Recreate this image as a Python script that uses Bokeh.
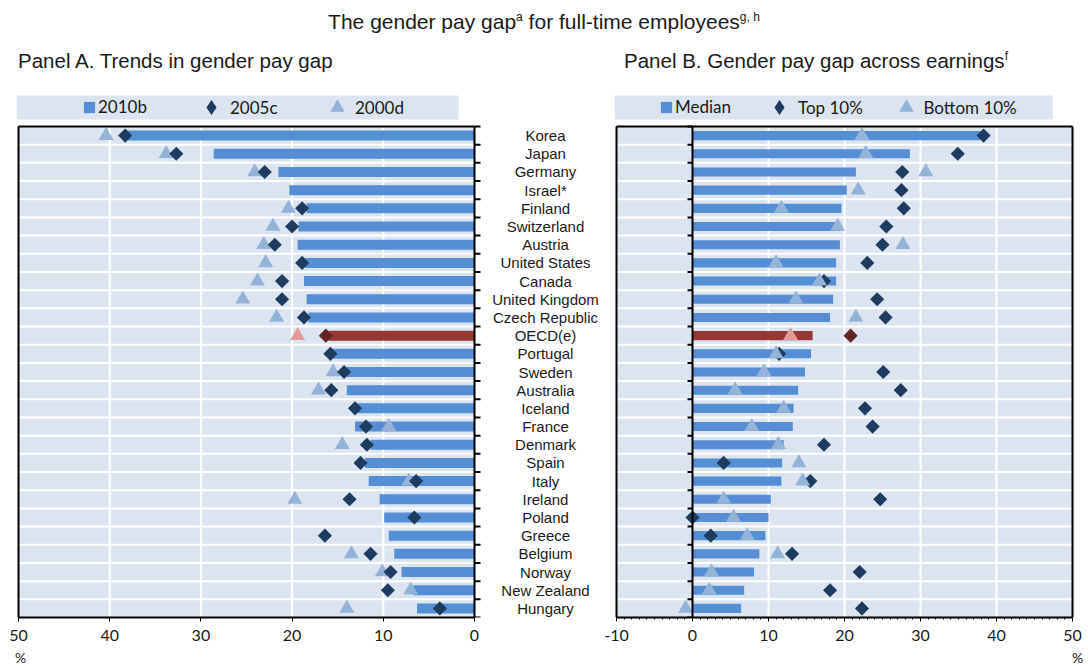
import math
from bokeh.plotting import figure
from bokeh.models import (ColumnDataSource, Range1d, FixedTicker,
                          Legend, LegendItem, Div)
from bokeh.layouts import row, column
from bokeh.embed import file_html
from bokeh.resources import INLINE
from bokeh.core.properties import value

NaN = float("nan")

# ---------------- data ----------------
countries = ["Korea", "Japan", "Germany", "Israel*", "Finland", "Switzerland",
             "Austria", "United States", "Canada", "United Kingdom",
             "Czech Republic", "OECD(e)", "Portugal", "Sweden", "Australia",
             "Iceland", "France", "Denmark", "Spain", "Italy", "Ireland",
             "Poland", "Greece", "Belgium", "Norway", "New Zealand", "Hungary"]

# Panel A: trends in gender pay gap (%)
gap_2010b = [38.2, 28.6, 21.5, 20.3, 18.4, 19.3, 19.4, 18.6, 18.7, 18.4,
             18.2, 16.0, 15.6, 14.0, 14.0, 12.8, 13.1, 11.4, 12.0, 11.6,
             10.4, 9.9, 9.4, 8.8, 8.0, 6.7, 6.3]
gap_2005c = [38.3, 32.7, 23.0, NaN, 18.9, 20.0, 21.9, 18.9, 21.1, 21.1,
             18.7, 16.3, 15.8, 14.3, 15.7, 13.1, 11.9, 11.8, 12.5, 6.4,
             13.7, 6.6, 16.4, 11.4, 9.2, 9.5, 3.8]
gap_2000d = [40.4, 33.8, 24.1, NaN, 20.4, 22.1, 23.1, 22.9, 23.8, 25.4,
             21.7, 19.4, NaN, 15.5, 17.1, NaN, 9.4, 14.5, NaN, 7.2,
             19.7, NaN, NaN, 13.5, 10.1, 7.0, 14.0]

# Panel B: gender pay gap across earnings (%)
gap_median = [37.9, 28.6, 21.5, 20.3, 19.6, 19.4, 19.4, 18.9, 18.9, 18.5,
              18.1, 15.8, 15.6, 14.8, 13.9, 13.3, 13.2, 12.0, 11.8, 11.7,
              10.3, 10.0, 9.6, 8.8, 8.1, 6.8, 6.4]
gap_top10 = [38.3, 34.9, 27.6, 27.5, 27.8, 25.5, 25.0, 23.0, 17.3, 24.3,
             25.4, 20.8, 11.4, 25.1, 27.4, 22.7, 23.7, 17.3, 4.1, 15.5,
             24.7, 0.0, 2.4, 13.1, 22.0, 18.1, 22.3]
gap_bottom10 = [22.3, 22.8, 30.7, 21.8, 11.7, 19.1, 27.7, 11.0, 16.7, 13.6,
                21.5, 12.9, 11.0, 9.4, 5.6, 12.0, 7.8, 11.3, 14.0, 14.5,
                4.1, 5.4, 7.2, 11.2, 2.5, 2.2, -0.9]

ticks_a = [0, 10, 20, 30, 40, 50]
ticks_b = [-10, 0, 10, 20, 30, 40, 50]
legend_a = ["2010b", "2005c", "2000d"]
legend_b = ["Median", "Top 10%", "Bottom 10%"]

title_main = "The gender pay gap"
title_main_sup1 = "a"
title_main_rest = " for full-time employees"
title_main_sup2 = "g, h"
title_a = "Panel A. Trends in gender pay gap"
title_b = "Panel B. Gender pay gap across earnings"
title_b_sup = "f"
unit_label = "%"

# ---------------- styles / geometry ----------------
BG = "#DCE4F0"
BAR = "#558ED5"
NAVY = "#1F3B5E"
LIGHT = "#95B3D7"
RED_BAR = "#953735"
RED_DIA = "#632523"
RED_TRI = "#E39A9A"
TXT = "#1a1a1a"
SANS = "Liberation Sans"
CAL = "Lato"

n = len(countries)
ROW_PX = 491 / n          # pixel height of one category row
FRAME_H = 523
TOP_GAP = FRAME_H - ROW_PX * n
y_top = -0.5 + FRAME_H / ROW_PX
plot_top = n - 0.5
strip_bot = plot_top + 7 / ROW_PX
strip_top = plot_top + 31 / ROW_PX
BOTTOM = 32
HEADER_H = 94
FOOTER_H = 17
PX_A = 456 / 50
PX_B = 456 / 60

oecd = [c.startswith("OECD") for c in countries]
src = ColumnDataSource(dict(
    y=[n - 1 - i for i in range(n)],
    country=countries,
    a10=gap_2010b, a05=gap_2005c, a00=gap_2000d,
    med=gap_median, top=gap_top10, bot=gap_bottom10,
    bar_col=[RED_BAR if o else BAR for o in oecd],
    dia_col=[RED_DIA if o else NAVY for o in oecd],
    tri_col=[RED_TRI if o else LIGHT for o in oecd],
))

seps = [k + 0.5 for k in range(n - 1)]
bounds_y = [k - 0.5 for k in range(n + 1)]


def base_panel(x_range, frame_w, lo, hi, ticks, min_left, min_right, strip_x):
    p = figure(frame_width=frame_w, frame_height=FRAME_H,
               x_range=x_range, y_range=Range1d(-0.5, y_top),
               min_border_left=min_left, min_border_right=min_right,
               min_border_top=0, min_border_bottom=BOTTOM,
               x_axis_location="below", y_axis_location=None,
               output_backend="svg", toolbar_location=None,
               background_fill_color="white", border_fill_color="white",
               outline_line_color=None)
    p.xgrid.visible = False
    p.ygrid.visible = False
    # plot area and legend strip
    p.quad(left=lo, right=hi, bottom=-0.5, top=plot_top, fill_color=BG, line_color=None)
    p.quad(left=strip_x[0], right=strip_x[1], bottom=strip_bot, top=strip_top,
           fill_color=BG, line_color=None)
    # white grid
    gx = [t for t in ticks if lo < t < hi and t != 0]
    p.segment(x0=gx, y0=[-0.5] * len(gx), x1=gx, y1=[plot_top] * len(gx),
              line_color="white", line_width=2)
    p.segment(x0=[lo] * len(seps), y0=seps, x1=[hi] * len(seps), y1=seps,
              line_color="white", line_width=2)
    # bottom axis
    ax = p.xaxis[0]
    ax.bounds = (lo, hi)
    ax.ticker = FixedTicker(ticks=ticks)
    ax.major_label_overrides = {t: str(t) for t in ticks}
    ax.axis_line_color = "black"
    ax.axis_line_width = 2
    ax.major_tick_out = 4
    ax.major_tick_in = 0
    ax.major_tick_line_color = "black"
    ax.major_tick_line_width = 1
    ax.minor_tick_line_color = None
    ax.major_label_text_font = CAL
    ax.major_label_text_font_size = "16px"
    ax.major_label_text_color = TXT
    ax.major_label_standoff = 8
    return p


def border(p, xs, lo, hi):
    # frame lines: verticals at xs and top edge
    p.segment(x0=xs, y0=[-0.5] * len(xs), x1=xs, y1=[plot_top] * len(xs),
              line_color="black", line_width=2)
    p.segment(x0=[lo], y0=[plot_top], x1=[hi], y1=[plot_top],
              line_color="black", line_width=2)


def ticks_at(p, x, tick_len):
    p.segment(x0=[x + tick_len] * len(bounds_y), y0=bounds_y,
              x1=[x] * len(bounds_y), y1=bounds_y, line_color="black", line_width=2)


def add_legend(p, renderer, label, cx, tx, gsize):
    # glyph centre cx and text start tx (px from frame left); the glyph
    # box cannot overlap the text, so split any difference between both
    gw = gsize
    h = max(gsize, 20)
    err = max(0.0, (cx + gw / 2) - tx)
    box_left = cx - gw / 2 - err / 2
    standoff = int(round(max(0.0, tx - (cx + gw / 2))))
    strip_mid = FRAME_H - (TOP_GAP - 19)   # px from frame bottom
    leg = Legend(items=[LegendItem(label=label, renderers=[renderer])],
                 location=(box_left, strip_mid - h / 2),
                 orientation="horizontal",
                 glyph_width=gw, glyph_height=gsize,
                 label_standoff=standoff,
                 padding=0, margin=0, spacing=0,
                 background_fill_alpha=0, border_line_color=None,
                 label_text_font=CAL, label_text_font_size="17px",
                 label_text_color=TXT, label_height=14)
    p.add_layout(leg, "center")


# legend swatch for the diamond series (no data point of its own)
swatch = ColumnDataSource(dict(x=[NaN], y=[NaN]))

# ---------------- Panel A ----------------
padA_l, padA_r = 2, 7
pA = base_panel(Range1d(50 + padA_l / PX_A, -padA_r / PX_A), 456 + padA_l + padA_r,
                0, 50, ticks_a, 16, 9, (1.75, 50 + padA_l / PX_A))
rA_bar = pA.hbar(y="y", left=0, right="a10", height=0.55, source=src,
                 fill_color="bar_col", line_color=None)
rA_tri = pA.scatter(x="a00", y="y", source=src, marker="triangle", size=15,
                    fill_color="tri_col", line_color=None)
rA_dia = pA.scatter(x="a05", y="y", source=src, marker="square", angle=math.pi / 4,
                    size=10, fill_color="dia_col", line_color=None)
border(pA, [50, 0], 0, 50)
ticks_at(pA, 0, -6 / PX_A)
legA_dia = pA.scatter(x="x", y="y", source=swatch, marker="diamond",
                      fill_color=NAVY, line_color=None)
add_legend(pA, rA_bar, legend_a[0], 73, 82, 14)
add_legend(pA, legA_dia, legend_a[1], 199, 210, 38)
add_legend(pA, rA_tri, legend_a[2], 325, 335, 36)

# ---------------- Panel B ----------------
padB = 2
pB = base_panel(Range1d(-10 - padB / PX_B, 50 + padB / PX_B), 456 + 2 * padB,
                -10, 50, ticks_b, 14, 14, (-10 - padB / PX_B, 47.4))
pB.xaxis[0].ticker = FixedTicker(ticks=ticks_b, minor_ticks=list(range(-10, 51)))
pB.xaxis[0].minor_tick_line_color = "black"
pB.xaxis[0].minor_tick_out = 2
pB.xaxis[0].minor_tick_in = 0
rB_bar = pB.hbar(y="y", left=0, right="med", height=0.5, source=src,
                 fill_color="bar_col", line_color=None)
rB_dia = pB.scatter(x="top", y="y", source=src, marker="square", angle=math.pi / 4,
                    size=10, fill_color="dia_col", line_color=None)
rB_tri = pB.scatter(x="bot", y="y", source=src, marker="triangle", size=15,
                    fill_color="tri_col", line_color=None)
border(pB, [-10, 50, 0], -10, 50)
ticks_at(pB, 0, -5 / PX_B)
legB_dia = pB.scatter(x="x", y="y", source=swatch, marker="diamond",
                      fill_color=NAVY, line_color=None)
add_legend(pB, rB_bar, legend_b[0], 52, 61, 14)
add_legend(pB, legB_dia, legend_b[1], 170, 179, 38)
add_legend(pB, rB_tri, legend_b[2], 296, 305, 36)

# ---------------- category labels ----------------
pM = figure(frame_width=110, frame_height=FRAME_H, x_range=Range1d(0, 1),
            y_range=Range1d(-0.5, y_top), min_border_left=0, min_border_right=0,
            min_border_top=0, min_border_bottom=BOTTOM,
            x_axis_location=None, y_axis_location=None,
            output_backend="svg", toolbar_location=None, outline_line_color=None)
pM.xgrid.visible = False
pM.ygrid.visible = False
pM.text(x=0.5, y="y", text="country", source=src, text_align="center",
        text_baseline="middle", text_font=value(SANS), text_font_size="15px",
        text_color=TXT)

# ---------------- header / footer ----------------
sup = "font-size:12px;position:relative;top:-8px"
header = Div(width=1088, height=HEADER_H, margin=0, text=f"""
<div style="position:relative;width:1088px;height:{HEADER_H}px;font-family:'{SANS}',Arial,sans-serif;color:{TXT};">
  <div style="position:absolute;left:0;top:11px;width:1088px;text-align:center;font-size:21px;line-height:21px;white-space:nowrap;">{title_main}<span style="{sup}">{title_main_sup1}</span>{title_main_rest}<span style="{sup}">{title_main_sup2}</span></div>
  <div style="position:absolute;left:18px;top:51px;font-size:20.5px;line-height:20px;white-space:nowrap;">{title_a}</div>
  <div style="position:absolute;left:624px;top:51px;font-size:20.5px;line-height:20px;white-space:nowrap;">{title_b}<span style="{sup}">{title_b_sup}</span></div>
</div>""")

pct = f"position:absolute;top:0;font-family:'{CAL}',sans-serif;font-size:14px;line-height:17px;color:{TXT};white-space:nowrap;"
footer = Div(width=1088, height=FOOTER_H, margin=0, text=f"""
<div style="position:relative;width:1088px;height:{FOOTER_H}px;">
  <div style="{pct}left:15px;">{unit_label}</div>
  <div style="{pct}left:1072px;">{unit_label}</div>
</div>""")

layout = column(header, row(pA, pM, pB, spacing=0), footer, spacing=0)
open("out.html", "w").write(file_html(layout, INLINE))
